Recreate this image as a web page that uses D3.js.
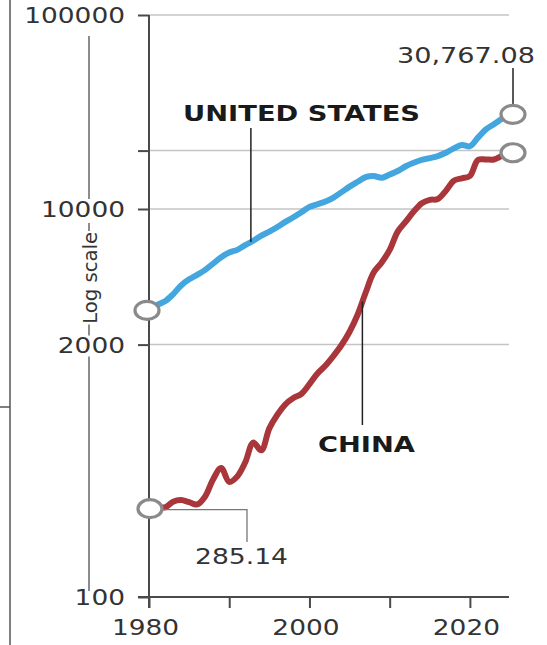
<!DOCTYPE html>
<html>
<head>
<meta charset="utf-8">
<script src="https://cdn.jsdelivr.net/npm/d3@7"></script>
<style>
  html, body { margin: 0; padding: 0; background: #fff; }
  svg { display: block; }
  text { font-family: "DejaVu Sans", sans-serif; }
</style>
</head>
<body>
<svg id="chart" width="547" height="645"></svg>
<script>
// ---- data (GDP, billions of US$, log scale) ----
const years = d3.range(1980, 2026);
const usValues = [
  3000, 3200, 3344, 3634, 4037, 4339, 4580, 4855, 5236, 5642,
  5963, 6158, 6520, 6859, 7287, 7640, 8073, 8578, 9063, 9631,
  10251, 10582, 10929, 11457, 12217, 13039, 13816, 14600, 14800, 14478,
  15049, 15700, 16600, 17300, 17900, 18300, 18750, 19500, 20533, 21381,
  21060, 23315, 25744, 27361, 29185, 30767.08
];
const chinaValues = [
  285.14, 292, 290, 310, 316, 308, 300, 330, 405, 462,
  392, 418, 495, 625, 570, 740, 870, 985, 1060, 1115,
  1250, 1420, 1560, 1750, 1990, 2330, 2850, 3700, 4700, 5300,
  6150, 7650, 8600, 9700, 10700, 11150, 11250, 12400, 14000, 14400,
  14800, 17900, 18000, 18000, 18800, 19500
];
const yTickValues = [100, 2000, 10000, 20000, 100000];
const yTickLabels = ["100", "2000", "10000", "", "100000"];
const gridValues = [2000, 10000, 20000, 100000];
const xTickValues = [1980, 1990, 2000, 2010, 2020];
const xTickLabels = ["1980", "", "2000", "", "2020"];
const seriesNames = ["UNITED STATES", "CHINA"];
const startLabel = "285.14";
const endLabel = "30,767.08";
const axisTitle = "Log scale";

// ---- scales ----
const x = d3.scaleLinear().domain([1980, 2025]).range([149, 510]);
const y = d3.scaleLog().domain([100, 100000]).range([597, 15]);

const svg = d3.select("#chart");
const axisColor = "#4a4a4a";
const textColor = "#333";
const digitW = 16.8;

// left frame
svg.append("line").attr("x1", 10).attr("x2", 10).attr("y1", 0).attr("y2", 645)
  .attr("stroke", "#555").attr("stroke-width", 1.5);
svg.append("line").attr("x1", 0).attr("x2", 10).attr("y1", 407).attr("y2", 407)
  .attr("stroke", "#555").attr("stroke-width", 1.5);

// gridlines
svg.append("g").selectAll("line").data(gridValues).join("line")
  .attr("x1", x(1980)).attr("x2", 509)
  .attr("y1", d => y(d)).attr("y2", d => y(d))
  .attr("stroke", "#c4c4c4").attr("stroke-width", 1.5);

// y axis
const yAxis = d3.axisLeft(y).tickValues(yTickValues)
  .tickFormat((d, i) => yTickLabels[i]).tickSize(11).tickPadding(13);
const gy = svg.append("g").attr("transform", `translate(${x(1980)},0)`).call(yAxis);
gy.select(".domain").remove();
gy.selectAll(".tick line").attr("stroke", axisColor).attr("stroke-width", 2);
gy.selectAll(".tick text")
  .attr("font-size", 21).attr("font-family", "DejaVu Sans, sans-serif")
  .attr("fill", textColor).attr("dy", "0.36em")
  .each(function() {
    const t = d3.select(this).text();
    if (t) d3.select(this).attr("textLength", t.length * digitW).attr("lengthAdjust", "spacingAndGlyphs");
  });
svg.append("line").attr("x1", x(1980)).attr("x2", x(1980))
  .attr("y1", y(100000)).attr("y2", y(100) + 11)
  .attr("stroke", axisColor).attr("stroke-width", 2);

// x axis
const xAxis = d3.axisBottom(x).tickValues(xTickValues)
  .tickFormat((d, i) => xTickLabels[i]).tickSize(11).tickPadding(12);
const gx = svg.append("g").attr("transform", `translate(0,${y(100)})`).call(xAxis);
gx.select(".domain").remove();
gx.selectAll(".tick line").attr("stroke", axisColor).attr("stroke-width", 2);
gx.selectAll(".tick text")
  .attr("font-size", 21).attr("font-family", "DejaVu Sans, sans-serif")
  .attr("fill", textColor).attr("x", -4)
  .each(function() {
    const t = d3.select(this).text();
    if (t) d3.select(this).attr("textLength", t.length * digitW).attr("lengthAdjust", "spacingAndGlyphs");
  });
svg.append("line").attr("x1", x(1980) - 11).attr("x2", 509)
  .attr("y1", y(100)).attr("y2", y(100))
  .attr("stroke", axisColor).attr("stroke-width", 2);

// axis title "Log scale" with line segments
const titleX = 89;
[[y(100000) + 21, y(10000) - 10], [y(10000) + 14, y(10000) + 22],
 [y(2000) - 20, y(2000) - 9], [y(2000) + 12, y(100) - 6]].forEach(s => {
  svg.append("line").attr("x1", titleX).attr("x2", titleX).attr("y1", s[0]).attr("y2", s[1])
    .attr("stroke", "#666").attr("stroke-width", 1.5);
});
svg.append("text")
  .attr("transform", `translate(${titleX + 8},${(y(10000) + y(2000)) / 2 + 1}) rotate(-90)`)
  .attr("text-anchor", "middle")
  .attr("font-family", "Liberation Sans, Arial, sans-serif")
  .attr("font-size", 19).attr("fill", textColor)
  .attr("textLength", 92).attr("lengthAdjust", "spacingAndGlyphs")
  .text(axisTitle);

// lines
const usData = years.map((yr, i) => ({ year: yr, value: usValues[i] }));
const cnData = years.map((yr, i) => ({ year: yr, value: chinaValues[i] }));
const line = d3.line().x(d => x(d.year)).y(d => y(d.value)).curve(d3.curveCatmullRom.alpha(0.5));

svg.append("path").datum(usData).attr("d", line)
  .attr("fill", "none").attr("stroke", "#44a6df").attr("stroke-width", 6)
  .attr("stroke-linejoin", "round").attr("stroke-linecap", "round");
svg.append("path").datum(cnData).attr("d", line)
  .attr("fill", "none").attr("stroke", "#a8363a").attr("stroke-width", 6)
  .attr("stroke-linejoin", "round").attr("stroke-linecap", "round");

// annotation leader lines
function interp(data, yr) {
  const i = Math.floor(yr - 1980);
  const a = data[i], b = data[i + 1], t = yr - a.year;
  return Math.exp(Math.log(a.value) * (1 - t) + Math.log(b.value) * t);
}
const usLeadYear = 1992.7, cnLeadYear = 2006.6;
svg.append("line").attr("x1", x(usLeadYear)).attr("x2", x(usLeadYear))
  .attr("y1", 128).attr("y2", y(interp(usData, usLeadYear)))
  .attr("stroke", "#222").attr("stroke-width", 1.5);
svg.append("line").attr("x1", x(cnLeadYear)).attr("x2", x(cnLeadYear))
  .attr("y1", y(interp(cnData, cnLeadYear))).attr("y2", 425)
  .attr("stroke", "#222").attr("stroke-width", 1.5);

const usEnd = usData[usData.length - 1], cnStart = cnData[0];
svg.append("line").attr("x1", x(usEnd.year) + 3).attr("x2", x(usEnd.year) + 3)
  .attr("y1", 68).attr("y2", y(usEnd.value))
  .attr("stroke", "#222").attr("stroke-width", 1.5);
svg.append("path")
  .attr("d", `M${x(cnStart.year)},${y(cnStart.value) + 1}H247V542`)
  .attr("fill", "none").attr("stroke", "#777").attr("stroke-width", 1.3);

// endpoint circles
const ends = [
  { yr: usData[0].year, v: usData[0].value, dx: -2 },
  { yr: usEnd.year, v: usEnd.value, dx: 3 },
  { yr: cnStart.year, v: cnStart.value, dx: 1 },
  { yr: cnData[cnData.length - 1].year, v: cnData[cnData.length - 1].value, dx: 3 }
];
svg.append("g").selectAll("ellipse").data(ends).join("ellipse")
  .attr("cx", d => x(d.yr) + d.dx).attr("cy", d => y(d.v))
  .attr("rx", 12).attr("ry", 9)
  .attr("fill", "#fff").attr("stroke", "#8a8a8a").attr("stroke-width", 3.2);

// labels
svg.append("text").attr("x", 301.5).attr("y", 121).attr("text-anchor", "middle")
  .attr("font-weight", "bold").attr("font-size", 21).attr("fill", "#1a1a1a")
  .attr("textLength", 237).attr("lengthAdjust", "spacingAndGlyphs")
  .text(seriesNames[0]);
svg.append("text").attr("x", 366.5).attr("y", 452).attr("text-anchor", "middle")
  .attr("font-weight", "bold").attr("font-size", 21).attr("fill", "#1a1a1a")
  .attr("textLength", 97).attr("lengthAdjust", "spacingAndGlyphs")
  .text(seriesNames[1]);
svg.append("text").attr("x", 466).attr("y", 63).attr("text-anchor", "middle")
  .attr("font-size", 21).attr("fill", textColor)
  .attr("textLength", 138).attr("lengthAdjust", "spacingAndGlyphs")
  .text(endLabel);
svg.append("text").attr("x", 241.5).attr("y", 564).attr("text-anchor", "middle")
  .attr("font-size", 21).attr("fill", textColor)
  .attr("textLength", 93).attr("lengthAdjust", "spacingAndGlyphs")
  .text(startLabel);
</script>
</body>
</html>
